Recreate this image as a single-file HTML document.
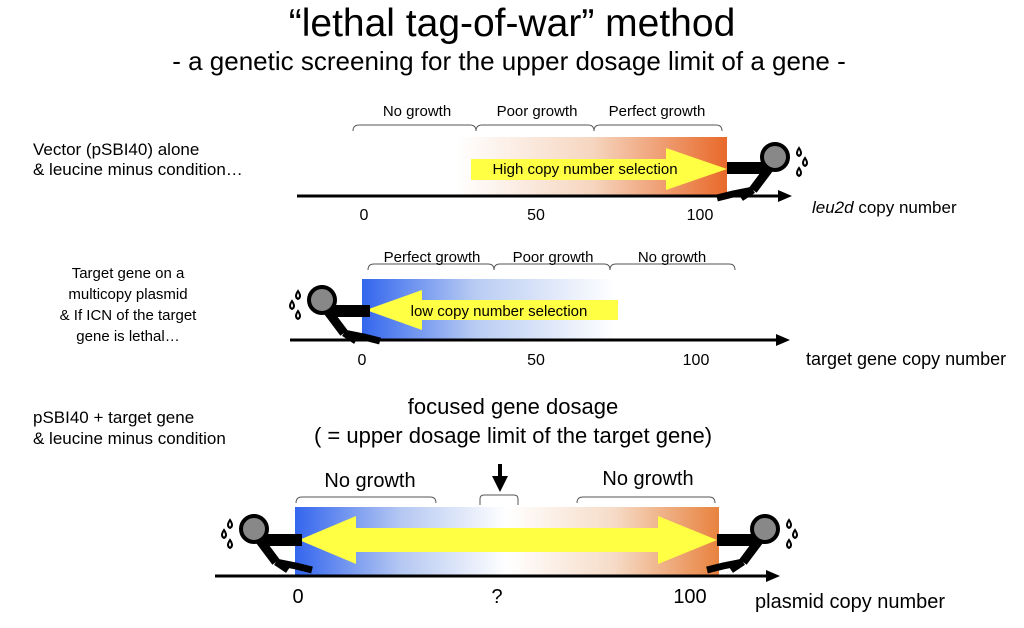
<!DOCTYPE html>
<html><head><meta charset="utf-8"><style>
html,body{margin:0;padding:0;background:#fff;}
svg{display:block;font-family:"Liberation Sans",Arial,sans-serif;}
</style></head><body>
<svg width="1024" height="628" viewBox="0 0 1024 628" xmlns="http://www.w3.org/2000/svg">
<defs>
<linearGradient id="og" x1="0" x2="1" y1="0" y2="0"><stop offset="0" stop-color="#fff"/><stop offset="0.5" stop-color="#f6d6c0"/><stop offset="1" stop-color="#e8692a"/></linearGradient>
<linearGradient id="bg" x1="0" x2="1" y1="0" y2="0"><stop offset="0" stop-color="#3366ee"/><stop offset="0.45" stop-color="#b9ccf3"/><stop offset="1" stop-color="#fff"/></linearGradient>
<linearGradient id="bog" x1="0" x2="1" y1="0" y2="0"><stop offset="0" stop-color="#3366ee"/><stop offset="0.25" stop-color="#b5c8f2"/><stop offset="0.5" stop-color="#fff"/><stop offset="0.75" stop-color="#f6dcc8"/><stop offset="1" stop-color="#e8823f"/></linearGradient>
<g id="man">
<rect x="0" y="-6" width="40" height="12" fill="#000"/>
<line x1="44" y1="-2" x2="26" y2="22" stroke="#000" stroke-width="9"/>
<polyline points="26,22 6,26 -10,30" fill="none" stroke="#000" stroke-width="7"/>
<polyline points="26,22 14,30" fill="none" stroke="#000" stroke-width="7"/>
<circle cx="48" cy="-11" r="13" fill="#888" stroke="#000" stroke-width="4"/>
<line x1="48" y1="-26" x2="48" y2="-22" stroke="#000" stroke-width="3"/>
<path d="M72,-20 q-4,6 0,8 q4,-2 0,-8z M78,-10 q-4,6 0,8 q4,-2 0,-8z M72,0 q-4,6 0,8 q4,-2 0,-8z" fill="#fff" stroke="#000" stroke-width="2"/>
</g>
</defs>
<g fill="#000">
<text x="512" y="36" font-size="39" text-anchor="middle">“lethal tag-of-war” method</text>
<text x="509" y="70" font-size="26" text-anchor="middle">- a genetic screening for the upper dosage limit of a gene -</text>

<text x="33" y="155" font-size="17">Vector (pSBI40) alone</text>
<text x="33" y="175" font-size="17">&amp; leucine minus condition…</text>

<text x="128" y="278" font-size="15" text-anchor="middle">Target gene on a</text>
<text x="128" y="299" font-size="15" text-anchor="middle">multicopy plasmid</text>
<text x="128" y="320" font-size="15" text-anchor="middle">&amp; If ICN of the target</text>
<text x="128" y="341" font-size="15" text-anchor="middle">gene is lethal…</text>

<text x="33" y="423" font-size="17">pSBI40 + target gene</text>
<text x="33" y="444" font-size="17">&amp; leucine minus condition</text>
</g>

<!-- Panel 1 -->
<rect x="457" y="137" width="270" height="59" fill="url(#og)"/>
<polygon points="471,159 666,159 666,148 727,169 666,190 666,180 471,180" fill="#ffff44"/>
<text x="585" y="174" font-size="15" text-anchor="middle">High copy number selection</text>
<path d="M353,131 q0,-6 6,-6 h111 q6,0 6,6 q0,-6 6,-6 h106 q6,0 6,6 q0,-6 6,-6 h116 q6,0 6,6" fill="none" stroke="#555"/>
<g font-size="15" text-anchor="middle">
<text x="417" y="116">No growth</text><text x="537" y="116">Poor growth</text><text x="657" y="116">Perfect growth</text>
</g>
<line x1="297" y1="196" x2="780" y2="196" stroke="#000" stroke-width="3"/>
<polygon points="792,196 778,190 778,202" fill="#000"/>
<use href="#man" transform="translate(727,168)"/>
<g font-size="16" text-anchor="middle"><text x="364" y="220">0</text><text x="536" y="220">50</text><text x="700" y="220">100</text></g>
<text x="812" y="213" font-size="17"><tspan font-style="italic">leu2d</tspan>  copy number</text>

<!-- Panel 2 -->
<rect x="362" y="279" width="253" height="61" fill="url(#bg)"/>
<polygon points="618,300 422,300 422,290 366,310 422,330 422,320 618,320" fill="#ffff44"/>
<text x="499" y="316" font-size="15" text-anchor="middle">low copy number selection</text>
<path d="M368,270 q0,-6 6,-6 h114 q6,0 6,6 q0,-6 6,-6 h104 q6,0 6,6 q0,-6 6,-6 h113 q6,0 6,6" fill="none" stroke="#555"/>
<g font-size="15" text-anchor="middle">
<text x="432" y="262">Perfect growth</text><text x="553" y="262">Poor growth</text><text x="672" y="262">No growth</text>
</g>
<line x1="290" y1="340" x2="778" y2="340" stroke="#000" stroke-width="3"/>
<polygon points="790,340 776,334 776,346" fill="#000"/>
<use href="#man" transform="translate(370,311) scale(-1,1)"/>
<g font-size="16" text-anchor="middle"><text x="362" y="365">0</text><text x="536" y="365">50</text><text x="696" y="365">100</text></g>
<text x="806" y="365" font-size="18">target gene copy number</text>

<!-- Panel 3 -->
<text x="513" y="414" font-size="22" text-anchor="middle">focused gene dosage</text>
<text x="513" y="443" font-size="22" text-anchor="middle">( = upper dosage limit of the target gene)</text>
<rect x="295" y="507" width="424" height="69" fill="url(#bog)"/>
<polygon points="299,540 356,516 356,528 658,528 658,516 717,540 658,564 658,552 356,552 356,564" fill="#ffff44"/>
<g fill="none" stroke="#555">
<path d="M296,503 q0,-6 6,-6 h128 q6,0 6,6"/>
<path d="M480,505 v-6 q0,-4 4,-4 h30 q4,0 4,4 v6"/>
<path d="M577,503 q0,-6 6,-6 h126 q6,0 6,6"/>
</g>
<line x1="500" y1="464" x2="500" y2="478" stroke="#000" stroke-width="4"/>
<polygon points="492,476 508,476 500,492" fill="#000"/>
<g font-size="20" text-anchor="middle"><text x="370" y="487">No growth</text><text x="648" y="485">No growth</text></g>
<line x1="215" y1="576" x2="768" y2="576" stroke="#000" stroke-width="3"/>
<polygon points="780,576 766,570 766,582" fill="#000"/>
<use href="#man" transform="translate(302,540) scale(-1,1)"/>
<use href="#man" transform="translate(717,540)"/>
<g font-size="20" text-anchor="middle"><text x="298" y="603">0</text><text x="497" y="603">?</text><text x="690" y="603">100</text></g>
<text x="755" y="608" font-size="20">plasmid copy number</text>
</svg>
</body></html>
